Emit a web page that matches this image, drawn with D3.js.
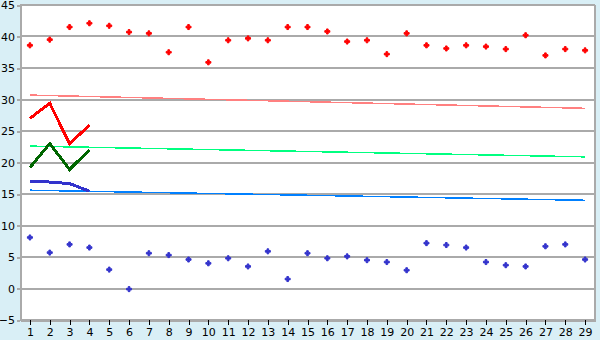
<!DOCTYPE html>
<html>
<head>
<meta charset="utf-8">
<script src="https://cdn.jsdelivr.net/npm/d3@7"></script>
<style>
  html, body { margin: 0; padding: 0; background: #d9eff6; }
  svg { display: block; }
  .tick text { font-family: "DejaVu Sans", Verdana, sans-serif; font-size: 11px; fill: #000; }
</style>
</head>
<body>
<div id="plot"></div>
<script>
// Category labels on the x axis
var days = d3.range(1, 30).map(String);
var yTicks = [-5, 0, 5, 10, 15, 20, 25, 30, 35, 40, 45];

// Scatter series (one value per day)
var redDots = [38.6, 39.5, 41.5, 42.1, 41.7, 40.7, 40.5, 37.5, 41.5, 35.9,
               39.4, 39.7, 39.4, 41.5, 41.5, 40.8, 39.2, 39.4, 37.2, 40.5,
               38.6, 38.1, 38.6, 38.4, 38.0, 40.2, 37.0, 38.0, 37.8];
var blueDots = [8.1, 5.7, 7.0, 6.5, 3.0, -0.1, 5.6, 5.3, 4.6, 4.0,
                4.8, 3.5, 5.9, 1.5, 5.6, 4.8, 5.1, 4.5, 4.2, 2.9,
                7.2, 6.9, 6.5, 4.2, 3.7, 3.5, 6.7, 7.0, 4.6];

// Short line series (first four days)
var redLine = [27.0, 29.4, 23.0, 25.9];
var greenLine = [19.2, 23.0, 18.9, 22.0];
var blueLine = [16.95, 16.9, 16.65, 15.45];

// Trend lines, value at first and last day
var trendDays = ["1", "29"];
var pinkTrend = [30.7, 28.6];
var greenTrend = [22.6, 20.9];
var blueTrend = [15.6, 14.0];

function draw(){
	var width = 600, height = 340;
	var margin = {left: 20, right: 595, top: 5, bottom: 320};

	var svg = d3.select("#plot")
		.append("svg")
		.attr("width", width)
		.attr("height", height);

	var x = d3.scalePoint()
		.domain(days)
		.range([margin.left, margin.right])
		.padding(0.5);

	var y = d3.scaleLinear()
		.domain([-5, 45])
		.range([margin.bottom, margin.top]);

	// Plot background
	svg.append("rect")
		.attr("x", margin.left)
		.attr("y", margin.top)
		.attr("width", margin.right - margin.left)
		.attr("height", margin.bottom - margin.top)
		.attr("fill", "#fff");

	// Horizontal grid lines
	svg.append("g")
		.selectAll("line")
		.data(yTicks)
		.enter().append("line")
		.attr("x1", margin.left)
		.attr("x2", margin.right)
		.attr("y1", function(d){ return Math.round(y(d)) })
		.attr("y2", function(d){ return Math.round(y(d)) })
		.attr("stroke", "#aaa")
		.attr("stroke-width", 2)
		.attr("shape-rendering", "crispEdges");

	// Right border
	svg.append("line")
		.attr("x1", margin.right).attr("x2", margin.right)
		.attr("y1", margin.top).attr("y2", margin.bottom)
		.attr("stroke", "#aaa")
		.attr("stroke-width", 2)
		.attr("shape-rendering", "crispEdges");

	// Y axis
	var yAxis = svg.append("g")
		.attr("transform", "translate(" + margin.left + ",0)")
		.call(d3.axisLeft(y).tickValues(yTicks).tickSize(3).tickSizeOuter(0).tickPadding(2)
			.tickFormat(function(d){ return d < 0 ? "\u2212" + (-d) : d }));
	yAxis.selectAll("line, path").attr("stroke", "#aaa").attr("stroke-width", 2).attr("shape-rendering", "crispEdges");

	// X axis
	var xAxis = svg.append("g")
		.attr("transform", "translate(0," + margin.bottom + ")")
		.call(d3.axisBottom(x).tickSize(5).tickPadding(3).tickSizeOuter(0));
	xAxis.selectAll("path").attr("stroke", "#aaa").attr("stroke-width", 2).attr("shape-rendering", "crispEdges");
	xAxis.selectAll("line").attr("stroke", "#000").attr("shape-rendering", "crispEdges");

	// Line generator
	var line = function(cats){
		return d3.line()
			.x(function(d, i){ return x(cats[i]) })
			.y(function(d){ return y(d) });
	};

	// Trend lines
	[[pinkTrend, "#ff8080"], [greenTrend, "#00ff80"], [blueTrend, "#0080ff"]].forEach(function(s){
		svg.append("path")
			.datum(s[0])
			.attr("d", line(trendDays))
			.attr("fill", "none")
			.attr("stroke", s[1])
			.attr("stroke-width", 1.5)
			.attr("shape-rendering", "crispEdges");
	});

	// Short thick lines
	[[redLine, "#ff0000"], [greenLine, "#006600"], [blueLine, "#3333cc"]].forEach(function(s){
		svg.append("path")
			.datum(s[0])
			.attr("d", line(days))
			.attr("fill", "none")
			.attr("stroke", s[1])
			.attr("stroke-width", 3)
			.attr("shape-rendering", "crispEdges");
	});

	// Scatter markers
	var marker = d3.symbol().type(d3.symbolCross).size(14);
	[[redDots, "#ff0000"], [blueDots, "#3333cc"]].forEach(function(s){
		svg.append("g")
			.selectAll("path")
			.data(s[0])
			.enter().append("path")
			.attr("transform", function(d, i){ return "translate(" + x(days[i]) + "," + y(d) + ")" })
			.attr("d", marker)
			.attr("fill", s[1])
			.attr("stroke", s[1])
			.attr("stroke-width", 1)
			.attr("stroke-linejoin", "round");
	});
}

draw();
</script>
</body>
</html>
